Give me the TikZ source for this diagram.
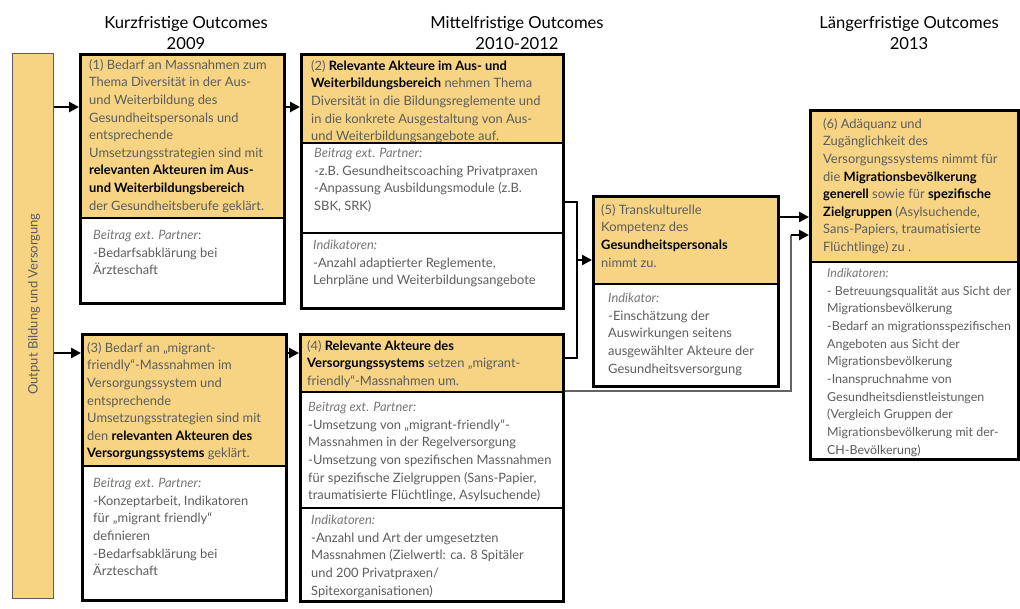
\documentclass[tikz,border=0pt]{standalone}
\usepackage{fontspec}
\setmainfont{Lato}
\usetikzlibrary{arrows.meta,calc}
\definecolor{boxor}{RGB}{246,212,132}
\definecolor{tgray}{RGB}{92,92,92}
\definecolor{lgray}{RGB}{118,118,118}
\definecolor{lnk}{RGB}{100,100,100}
\newcommand\hb[1]{\textbf{\color{black}#1}}
\newcommand\il[1]{\textit{\color{lgray}#1}}
\begin{document}
\begin{tikzpicture}[x=1pt,y=-1pt,
  box/.style={draw=black, line width=2.6pt, anchor=north west, inner sep=0pt},
  sepline/.style={draw=black, line width=1.5pt},
  txt/.style={anchor=north west, align=left, inner sep=0pt, font=\fontsize{12.9}{17.6}\selectfont, text=tgray},
  arr/.style={line width=2.8pt, -{Triangle[length=10pt,width=10pt]}},
  link/.style={line width=1.3pt},
  hdr/.style={align=center, font=\fontsize{16.6}{21}\selectfont, text=black}]
\useasboundingbox (0,0) rectangle (1020,609);

% headers
\node[hdr] (h1) at (186,32.5) {Kurzfristige Outcomes\\2009};
\node[hdr] (h2) at (517,32.5) {Mittelfristige Outcomes\\2010-2012};
\node[hdr] (h3) at (909,32.5) {Längerfristige Outcomes\\2013};

% side bar
\node[draw=tgray, line width=0.8pt, fill=boxor, minimum width=41pt, minimum height=545pt, anchor=north west, inner sep=0pt] (sb) at (12,53) {};
\node[rotate=90, text=tgray, font=\fontsize{13}{15}\selectfont] (sbt) at (34,304) {Output Bildung und Versorgung};

% orange fills
\fill[boxor] (79,53) rectangle (283,218);
\fill[boxor] (300,53) rectangle (562,143);
\fill[boxor] (81,333) rectangle (285,466);
\fill[boxor] (299,333) rectangle (562,392);
\fill[boxor] (592,195) rectangle (777,284);
\fill[boxor] (809,109) rectangle (1017,262);

% boxes
\node[box, minimum width=204pt, minimum height=249pt] (b1) at (79,53) {};
\node[box, minimum width=262pt, minimum height=254pt] (b2) at (300,53) {};
\node[box, minimum width=204pt, minimum height=266pt] (b3) at (81,333) {};
\node[box, minimum width=263pt, minimum height=267pt] (b4) at (299,333) {};
\node[box, minimum width=185pt, minimum height=190pt] (b5) at (592,195) {};
\node[box, minimum width=208pt, minimum height=349pt] (b6) at (809,109) {};

% separators
\draw[sepline] (b1.west |- 0,218) -- (b1.east |- 0,218);
\draw[sepline] (b2.west |- 0,143) -- (b2.east |- 0,143);
\draw[sepline] (b2.west |- 0,233) -- (b2.east |- 0,233);
\draw[sepline] (b3.west |- 0,466) -- (b3.east |- 0,466);
\draw[sepline] (b4.west |- 0,392) -- (b4.east |- 0,392);
\draw[sepline] (b4.west |- 0,508) -- (b4.east |- 0,508);
\draw[sepline] (b5.west |- 0,284) -- (b5.east |- 0,284);
\draw[sepline] (b6.west |- 0,262) -- (b6.east |- 0,262);

% texts box 1
\node[txt] (t1a) at (89,59) {(1) Bedarf an Massnahmen zum\\Thema Diversität in der Aus-\\und Weiterbildung des\\Gesundheitspersonals und\\entsprechende\\Umsetzungsstrategien sind mit\\\hb{relevanten Akteuren im Aus-}\\\hb{und Weiterbildungsbereich}\\der Gesundheitsberufe geklärt.};
\node[txt] (t1b) at (93,230) {\il{Beitrag ext. Partner}:\\-Bedarfsabklärung bei\\Ärzteschaft};

% box 2
\node[txt] (t2a) at (311,60) {(2) \hb{Relevante Akteure im Aus- und}\\\hb{Weiterbildungsbereich} nehmen Thema\\Diversität in die Bildungsreglemente und\\in die konkrete Ausgestaltung von Aus-\\und Weiterbildungsangebote auf.};
\node[txt] (t2b) at (314,148) {\il{Beitrag ext. Partner:}\\-z.B. Gesundheitscoaching Privatpraxen\\-Anpassung Ausbildungsmodule (z.B.\\SBK, SRK)};
\node[txt] (t2c) at (313,240) {\il{Indikatoren:}\\-Anzahl adaptierter Reglemente,\\Lehrpläne und Weiterbildungsangebote};

% box 3
\node[txt] (t3a) at (87,342) {(3) Bedarf an „migrant-\\friendly“-Massnahmen im\\Versorgungssystem und\\entsprechende\\Umsetzungsstrategien sind mit\\den \hb{relevanten Akteuren des}\\\hb{Versorgungssystems} geklärt.};
\node[txt] (t3b) at (93,478) {\il{Beitrag ext. Partner:}\\-Konzeptarbeit, Indikatoren\\für „migrant friendly“\\definieren\\-Bedarfsabklärung bei\\Ärzteschaft};

% box 4
\node[txt] (t4a) at (307,340) {(4) \hb{Relevante Akteure des}\\\hb{Versorgungssystems} setzen „migrant-\\friendly“-Massnahmen um.};
\node[txt] (t4b) at (308,402) {\il{Beitrag ext. Partner:}\\-Umsetzung von „migrant-friendly“-\\Massnahmen in der Regelversorgung\\-Umsetzung von spezifischen Massnahmen\\für spezifische Zielgruppen (Sans-Papier,\\traumatisierte Flüchtlinge, Asylsuchende)};
\node[txt] (t4c) at (311,515) {\il{Indikatoren:}\\-Anzahl und Art der umgesetzten\\Massnahmen (Zielwertl: ca. 8 Spitäler\\und 200 Privatpraxen/\\Spitexorganisationen)};

% box 5
\node[txt] (t5a) at (601,204) {(5) Transkulturelle\\Kompetenz des\\\hb{Gesundheitspersonals}\\nimmt zu.};
\node[txt] (t5b) at (608,293) {\il{Indikator:}\\-Einschätzung der\\Auswirkungen seitens\\ausgewählter Akteure der\\Gesundheitsversorgung};

% box 6
\node[txt] (t6a) at (823,118) {(6) Adäquanz und\\Zugänglichkeit des\\Versorgungssystems nimmt für\\die \hb{Migrationsbevölkerung}\\\hb{generell} sowie für \hb{spezifische}\\\hb{Zielgruppen} (Asylsuchende,\\Sans-Papiers, traumatisierte\\Flüchtlinge) zu .};
\node[txt, font=\fontsize{12.4}{17.7}\selectfont] (t6b) at (827,268) {\il{Indikatoren:}\\- Betreuungsqualität aus Sicht der\\Migrationsbevölkerung\\-Bedarf an migrationsspezifischen\\Angeboten aus Sicht der\\Migrationsbevölkerung\\-Inanspruchnahme von\\Gesundheitsdienstleistungen\\(Vergleich Gruppen der\\Migrationsbevölkerung mit der-\\CH-Bevölkerung)};

% connectors
\draw[arr] (sb.east |- 0,107) -- (b1.west |- 0,107);
\draw[arr] (sb.east |- 0,353) -- (b3.west |- 0,353);
\draw[arr] (b1.east |- 0,107) -- (b2.west |- 0,107);
\draw[arr] (b3.east |- 0,353) -- (b4.west |- 0,353);

\coordinate (j1) at (577,260);
\draw[link] (b2.east |- 0,202) -| (j1) |- (b4.east |- 0,358);
\draw[arr] (j1) -- (b5.west |- j1);

\draw[arr] (b5.east |- 0,217) -- (b6.west |- 0,217);
\coordinate (j2) at (791,235);
\draw[link, draw=lnk] (b4.east |- 0,391) -| (j2);
\draw[arr] (j2) -- (b6.west |- j2);
\end{tikzpicture}
\end{document}
